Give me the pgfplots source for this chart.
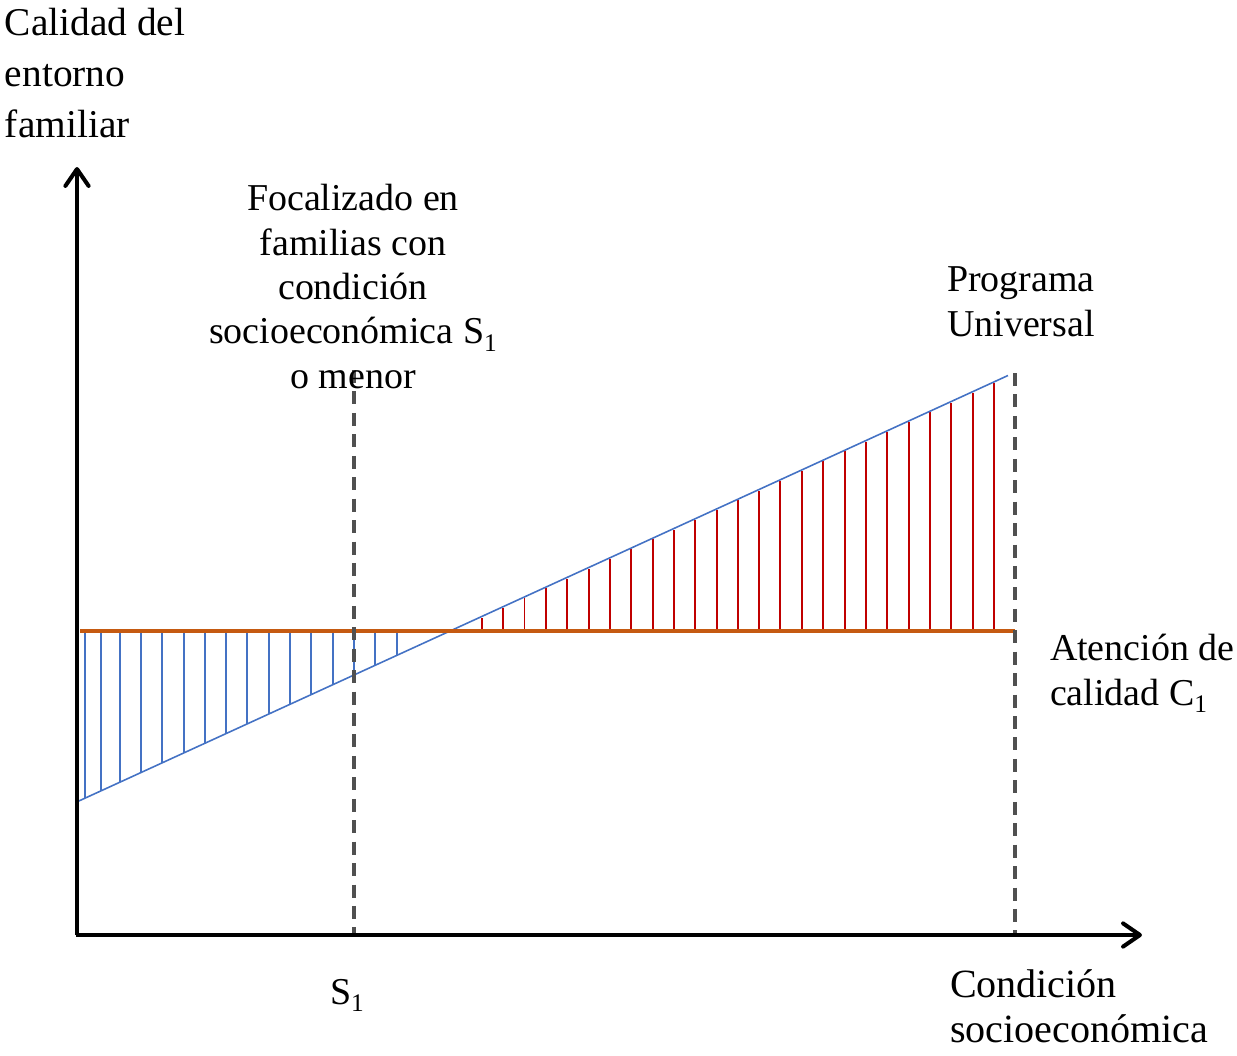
\documentclass[border=0pt]{standalone}
\usepackage{fontspec}
\setmainfont{Liberation Serif}
\usepackage{pgfplots}
\pgfplotsset{compat=1.18}
\usetikzlibrary{arrows.meta}

\definecolor{ejeazul}{HTML}{4472C4}
\definecolor{ejenaranja}{HTML}{C55A11}
\definecolor{ejerojo}{HTML}{C00000}
\definecolor{ejegris}{HTML}{505050}

\tikzset{etiqueta/.style={inner sep=0pt, outer sep=0pt, font=\fontsize{10.8}{12.6}\selectfont}}
\newcommand{\sub}[1]{\raisebox{-0.45ex}{\fontsize{7.2}{8}\selectfont #1}}

\begin{document}
\begin{tikzpicture}
\path[use as bounding box] (0,0) rectangle (123.7mm,105.5mm);
\begin{axis}[
    at={(0,0)}, anchor=south west,
    scale only axis,
    width=123.7mm, height=105.5mm,
    xmin=0, xmax=1237, ymin=0, ymax=1055,
    hide axis, clip=false,
    unbounded coords=jump,
    ]

    % hatching under the universal line (blue)
    \addplot[color=ejeazul, line width=0.4pt] coordinates {
        (85,424)(85,256.8)(85,nan)
        (101,424)(101,264.2)(101,nan)
        (120,424)(120,272.9)(120,nan)
        (141,424)(141,282.5)(141,nan)
        (162,424)(162,292.1)(162,nan)
        (184,424)(184,302.2)(184,nan)
        (205,424)(205,311.8)(205,nan)
        (226,424)(226,321.4)(226,nan)
        (247,424)(247,331.0)(247,nan)
        (269,424)(269,341.1)(269,nan)
        (290,424)(290,350.7)(290,nan)
        (311,424)(311,360.3)(311,nan)
        (333,424)(333,370.4)(333,nan)
        (354,424)(354,380.0)(354,nan)
        (375,424)(375,389.6)(375,nan)
        (397,424)(397,399.7)
    };

    % hatching above the target line (red)
    \addplot[color=ejerojo, line width=0.45pt] coordinates {
        (482,424)(482,437.5)(482,nan)
        (503,424)(503,447.0)(503,nan)
        (524.5,424)(524.5,457.0)(524.5,nan)
        (546,424)(546,466.8)(546,nan)
        (567,424)(567,476.4)(567,nan)
        (589,424)(589,486.5)(589,nan)
        (610,424)(610,496.1)(610,nan)
        (631,424)(631,505.7)(631,nan)
        (653,424)(653,515.8)(653,nan)
        (674,424)(674,525.4)(674,nan)
        (695,424)(695,535.0)(695,nan)
        (717,424)(717,545.1)(717,nan)
        (738,424)(738,554.7)(738,nan)
        (759,424)(759,564.4)(759,nan)
        (780,424)(780,574.0)(780,nan)
        (802,424)(802,584.0)(802,nan)
        (823,424)(823,593.7)(823,nan)
        (845,424)(845,603.7)(845,nan)
        (866,424)(866,613.3)(866,nan)
        (887,424)(887,623.0)(887,nan)
        (909,424)(909,633.0)(909,nan)
        (930,424)(930,642.7)(930,nan)
        (951,424)(951,652.3)(951,nan)
        (973,424)(973,662.3)(973,nan)
        (994,424)(994,672.0)
    };

    % universal programme
    \addplot[color=ejeazul, line width=0.45pt] coordinates {(77.3,253.3)(1008,679.5)};

    % quality C1
    \addplot[color=ejenaranja, line width=0.9pt] coordinates {(80,424)(1015,424)};

    % S1 and universal limits
    \addplot[color=ejegris, line width=1pt, dash pattern=on 3.7pt off 2.4pt]
        coordinates {(354,685)(354,120)};
    \addplot[color=ejegris, line width=1pt, dash pattern=on 3.7pt off 2.4pt]
        coordinates {(1015,682)(1015,120)};

    % axes
    \addplot[black, line width=1.15pt, -{Straight Barb[length=4.8pt,width=6.6pt,round]}]
        coordinates {(77,120)(77,888)};
    \addplot[black, line width=1.15pt, -{Straight Barb[length=4.8pt,width=6.6pt,round]}]
        coordinates {(75.5,120)(1142,120)};

    \node[etiqueta, anchor=base west, align=left, font=\fontsize{11.2}{14.5}\selectfont]
        at (axis cs:5,918) {Calidad del\\entorno\\familiar};
    \node[etiqueta, anchor=base, align=center]
        at (axis cs:353,667) {Focalizado en\\familias con\\condición\\socioeconómica S\sub{1}\\o menor};
    \node[etiqueta, anchor=base, align=center]
        at (axis cs:1021,719) {Programa\\Universal};
    \node[etiqueta, anchor=base west, align=left]
        at (axis cs:1050,350) {Atención de\\calidad C\sub{1}};
    \node[etiqueta, anchor=base]
        at (axis cs:347,51) {S\sub{1}};
    \node[etiqueta, anchor=base west, align=left, font=\fontsize{11.4}{12.6}\selectfont]
        at (axis cs:950,13) {Condición\\socioeconómica};
\end{axis}
\end{tikzpicture}
\end{document}
